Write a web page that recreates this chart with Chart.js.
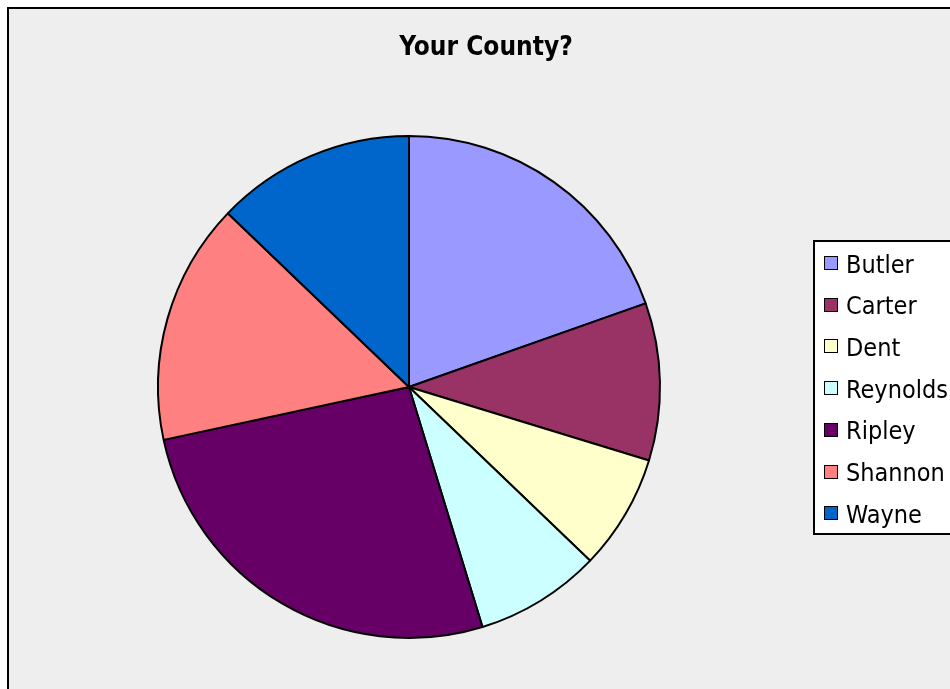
<!DOCTYPE html>
<html>
<head>
<meta charset="utf-8">
<script src="https://cdn.jsdelivr.net/npm/chart.js@4/dist/chart.umd.min.js"></script>
<style>
  html, body { margin: 0; padding: 0; background: #ffffff; overflow: hidden; }
  #wrap { width: 950px; height: 689px; position: relative; }
</style>
</head>
<body>
<div id="wrap"><canvas id="c" width="950" height="689"></canvas></div>
<script>
const chartTitle = 'Your County?';
const counties = ['Butler', 'Carter', 'Dent', 'Reynolds', 'Ripley', 'Shannon', 'Wayne'];
const responses = [29, 15, 11, 12, 39, 23, 19];
const sliceColors = ['#9999FF', '#993366', '#FFFFCC', '#CCFFFF', '#660066', '#FF8080', '#0066CC'];

const FONT = '"DejaVu Sans Condensed", "DejaVu Sans", sans-serif';

const frame = {
  id: 'frame',
  beforeDraw(chart) {
    const ctx = chart.ctx;
    ctx.save();
    ctx.fillStyle = '#ffffff';
    ctx.fillRect(0, 0, chart.width, chart.height);
    ctx.fillStyle = '#EEEEEE';
    ctx.fillRect(8, 8, chart.width, chart.height);
    ctx.strokeStyle = '#000000';
    ctx.lineWidth = 2;
    ctx.beginPath();
    ctx.moveTo(8, chart.height + 5);
    ctx.lineTo(8, 8);
    ctx.lineTo(chart.width + 5, 8);
    ctx.stroke();
    ctx.restore();
  },
  afterDraw(chart) {
    const ctx = chart.ctx;
    ctx.save();
    // title
    ctx.fillStyle = '#000000';
    ctx.font = 'bold 26px ' + FONT;
    ctx.textAlign = 'center';
    ctx.textBaseline = 'alphabetic';
    ctx.fillText(chartTitle, 486, 55);
    // legend box
    ctx.fillStyle = '#ffffff';
    ctx.fillRect(814, 241, 200, 293);
    ctx.strokeStyle = '#000000';
    ctx.lineWidth = 2;
    ctx.strokeRect(814, 241, 200, 293);
    // legend items
    const labels = chart.data.labels;
    const colors = chart.data.datasets[0].backgroundColor;
    ctx.font = '25px ' + FONT;
    ctx.textAlign = 'left';
    labels.forEach((lab, i) => {
      const cy = 263 + i * 41.7;
      const top = Math.round(cy - 7);
      ctx.fillStyle = colors[i];
      ctx.fillRect(824, top, 14, 14);
      ctx.lineWidth = 1;
      ctx.strokeStyle = '#000000';
      ctx.strokeRect(824.5, top + 0.5, 13, 13);
      ctx.fillStyle = '#000000';
      ctx.fillText(lab, 846, cy + 9.5);
    });
    ctx.restore();
  }
};

new Chart(document.getElementById('c'), {
  type: 'pie',
  data: {
    labels: counties,
    datasets: [{
      data: responses,
      backgroundColor: sliceColors,
      borderColor: '#000000',
      borderWidth: 2,
      radius: 251
    }]
  },
  options: {
    responsive: false,
    animation: false,
    events: [],
    layout: { padding: { left: 10, right: 142, top: 95, bottom: 10 } },
    plugins: {
      legend: { display: false },
      title: { display: false },
      tooltip: { enabled: false }
    }
  },
  plugins: [frame]
});
</script>
</body>
</html>
